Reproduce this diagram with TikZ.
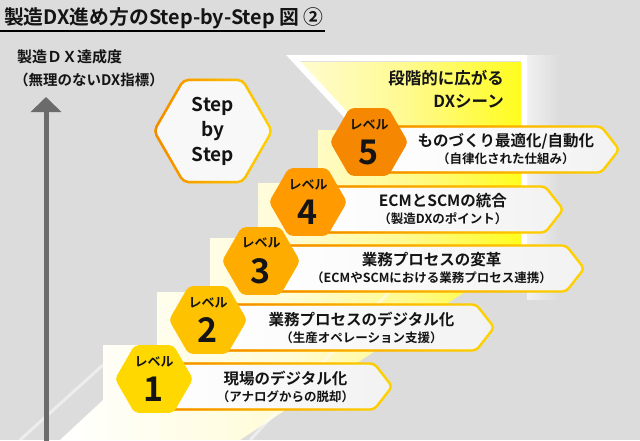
\documentclass[tikz,border=0pt]{standalone}
\usepackage{fontspec}
\setmainfont{Noto Sans CJK JP}[BoldFont={* Bold}]
\usetikzlibrary{arrows.meta,positioning,calc,shapes.geometric,shapes.symbols,fadings}
\definecolor{DxBg}{RGB}{220,220,220}
\definecolor{DxAxis}{RGB}{107,107,107}
\definecolor{DxInk}{RGB}{20,20,20}
\definecolor{DxYelPale}{RGB}{255,252,214}
\definecolor{DxYelMid}{RGB}{255,250,140}
\definecolor{DxYelBright}{RGB}{255,252,30}
\definecolor{DxOrange}{RGB}{245,135,0}
\definecolor{DxGold}{RGB}{255,212,0}
\definecolor{DxBoxGray}{RGB}{242,242,242}
\definecolor{DxHexFill}{RGB}{248,248,248}
\definecolor{DxLvOne}{RGB}{255,216,0}
\definecolor{DxLvTwo}{RGB}{255,194,0}
\definecolor{DxLvThree}{RGB}{255,172,0}
\definecolor{DxLvFour}{RGB}{255,154,0}
\definecolor{DxLvFive}{RGB}{245,136,0}
\pgfdeclarehorizontalshading{dxstairs}{100bp}{color(0bp)=(white); color(25bp)=(white);
  color(50bp)=(DxYelPale); color(63bp)=(DxYelMid); color(75bp)=(DxYelBright); color(100bp)=(DxYelBright)}
\tikzset{
  dx/title/.style={font=\bfseries\fontsize{19.8pt}{22pt}\selectfont, text=DxInk, inner sep=0pt},
  dx/axislabel/.style={font=\bfseries\fontsize{15pt}{18pt}\selectfont, text=DxInk, inner sep=0pt},
  dx/axissub/.style={font=\bfseries\fontsize{14.5pt}{16pt}\selectfont, text=DxInk, inner sep=0pt},
  dx/axisarrow/.style={-{Triangle[width=30pt,length=15pt]}, line width=5pt, draw=DxAxis},
  dx/stephex/.style={
    regular polygon,
    regular polygon sides=6,
    minimum size=118pt,
    inner sep=0pt,
    rounded corners=5pt,
    fill=DxHexFill,
    draw=DxGold,
    line width=2.4pt,
    postaction={draw=DxOrange, path fading=east},
    align=center,
    text=DxInk,
    font=\bfseries\fontsize{19pt}{25pt}\selectfont
  },
  dx/hex/.style={
    regular polygon,
    regular polygon sides=6,
    minimum size=78pt,
    inner sep=0pt,
    rounded corners=4pt,
    align=center,
    text=DxInk,
    font=\bfseries\fontsize{13pt}{14pt}\selectfont
  },
  dx/box/.style={
    signal,
    signal to=east,
    signal pointer angle=104,
    draw=DxGold,
    line width=2.4pt,
    rounded corners=4pt,
    minimum height=46pt,
    inner sep=0pt,
    left color=white,
    right color=DxBoxGray,
    postaction={draw=DxOrange, path fading=east},
    anchor=west
  },
  dx/text/.style={align=center, text=DxInk, inner sep=0pt, font=\bfseries\fontsize{15.5pt}{18pt}\selectfont},
  dx/scene/.style={align=right, text=DxInk, inner sep=0pt, font=\bfseries\fontsize{16.5pt}{23pt}\selectfont},
  dx/frame/.style={draw=white, line width=6pt, line join=miter}
}
\newcommand{\dxnum}[1]{\\[9pt]{\fontsize{34pt}{30pt}\selectfont #1}}
\newcommand{\dxsub}[1]{\\[-1pt]{\fontsize{12.5pt}{15pt}\selectfont #1}}

\begin{document}
\begin{tikzpicture}[x=1pt,y=-1pt]
  \useasboundingbox (0,0) rectangle (640,440);
  \fill[DxBg] (0,0) rectangle (640,440);
  % staircase and widening DX area
  \shade[shading=dxstairs] (60,440) -- (103,400) -- (103,345) -- (157,345) -- (157,292) -- (210,292)
    -- (210,238) -- (258,238) -- (258,183) -- (318,183) -- (318,130) -- (362,130) -- (300,62)
    -- (521,62) -- (521,255) -- (240,440) -- cycle;
  \fill[white, opacity=.6, path fading=east] (527,55) rectangle (560,300);
  \draw[dx/frame] (358,128) -- (293,58) -- (524,58) -- (524,258);
  \draw[white, opacity=.5, line width=3pt] (250,440) -- (392,289);
  \draw[white, opacity=.5, line width=3pt] (20,440) -- (103,365);

  % title
  \node[dx/title, anchor=west] (title) at (4,18) {製造DX進め方のStep-by-Step 図 ②};
  \draw[line width=2.2pt] (0,31) -- (325,31);

  % axis
  \node[dx/axislabel, anchor=west] (axis) at (17,57) {製造ＤＸ達成度};
  \node[dx/axissub, anchor=west] (axissub) at (14,80) {（無理のないDX指標）};
  \coordinate (axisfoot) at (46,441);
  \coordinate (axistip) at (46,97);
  \draw[dx/axisarrow] (axisfoot) -- (axistip);

  \node[dx/stephex] (step) at (213,131) {Step\\by\\Step};
  \node[dx/scene, anchor=north east] (scene) at (504,70) {段階的に広がる\\DXシーン};

  % levels
  \node[dx/box, minimum width=237pt] (box1) at (154,386.5) {};
  \node[dx/hex, fill=DxLvOne] (lv1) at (154,379) {レベル\dxnum{1}};
  \node[dx/text] (txt1) at ($(lv1.east |- box1.center)!0.46!(box1.east)$) {現場のデジタル化\dxsub{（アナログからの脱却）}};

  \node[dx/box, minimum width=285pt] (box2) at (208,327.5) {};
  \node[dx/hex, fill=DxLvTwo] (lv2) at (208,320) {レベル\dxnum{2}};
  \node[dx/text] (txt2) at ($(lv2.east |- box2.center)!0.46!(box2.east)$) {業務プロセスのデジタル化\dxsub{（生産オペレーション支援）}};

  \node[dx/box, minimum width=322pt] (box3) at (261,268.5) {};
  \node[dx/hex, fill=DxLvThree] (lv3) at (261,261) {レベル\dxnum{3}};
  \node[dx/text] (txt3) at ($(lv3.east |- box3.center)!0.46!(box3.east)$) {業務プロセスの変革\dxsub{（ECMやSCMにおける業務プロセス連携）}};

  \node[dx/box, minimum width=254pt] (box4) at (308,209.5) {};
  \node[dx/hex, fill=DxLvFour] (lv4) at (308,202) {レベル\dxnum{4}};
  \node[dx/text] (txt4) at ($(lv4.east |- box4.center)!0.44!(box4.east)$) {ECMとSCMの統合\dxsub{（製造DXのポイント）}};

  \node[dx/box, minimum width=249pt] (box5) at (369,149.5) {};
  \node[dx/hex, fill=DxLvFive] (lv5) at (369,142) {レベル\dxnum{5}};
  \node[dx/text] (txt5) at ($(lv5.east |- box5.center)!0.46!(box5.east)$) {ものづくり最適化/自動化\dxsub{（自律化された仕組み）}};
\end{tikzpicture}
\end{document}
